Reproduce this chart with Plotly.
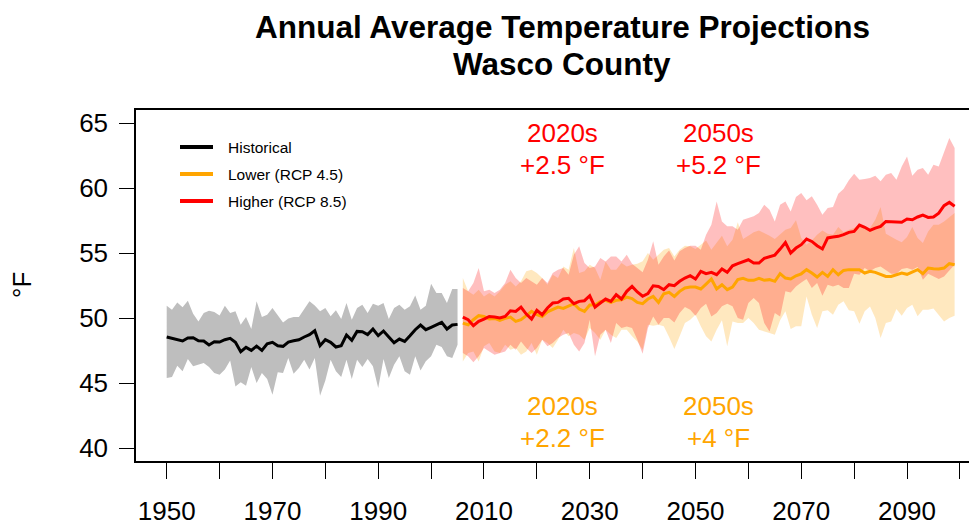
import plotly.graph_objects as go

# ---------------- data ----------------
hist_years = list(range(1950, 2006))
proj_years = list(range(2006, 2100))

hist_mean = [48.54, 48.43, 48.31, 48.23, 48.46, 48.48, 48.25, 48.23, 47.92, 48.18,
             48.15, 48.33, 48.43, 48.13, 47.41, 47.74, 47.51, 47.84, 47.51, 48.02,
             48.13, 47.87, 47.82, 48.15, 48.25, 48.33, 48.54, 48.72, 49.02, 47.87,
             48.33, 48.13, 47.77, 47.87, 48.69, 48.28, 48.97, 48.95, 48.72, 49.15,
             48.64, 49.00, 48.54, 48.10, 48.38, 48.20, 48.64, 49.10, 49.46, 49.10,
             49.28, 49.49, 49.66, 49.15, 49.46, 49.51]
hist_upper = [50.95, 50.64, 51.20, 50.82, 51.33, 50.33, 49.74, 50.38, 50.56, 50.46,
              50.20, 50.95, 50.38, 50.51, 49.48, 50.08, 49.15, 51.28, 50.08, 50.25,
              50.77, 50.25, 49.66, 49.97, 50.08, 50.08, 50.64, 51.28, 50.97, 50.51,
              50.77, 50.13, 50.59, 49.92, 51.15, 49.87, 50.77, 51.02, 50.38, 51.10,
              50.95, 51.15, 49.92, 50.77, 51.02, 50.64, 50.90, 51.74, 50.64, 50.95,
              52.64, 51.92, 51.92, 51.15, 52.23, 52.23]
hist_lower = [45.38, 45.46, 46.33, 45.90, 46.84, 46.28, 46.41, 46.54, 46.23, 45.77,
              45.64, 46.03, 46.74, 44.74, 45.05, 44.79, 46.23, 45.00, 45.77, 45.31,
              44.10, 45.82, 45.77, 46.92, 45.72, 46.15, 46.79, 46.03, 46.92, 44.02,
              45.20, 46.79, 45.90, 45.46, 46.79, 45.31, 46.79, 46.23, 46.84, 46.28,
              44.61, 46.84, 45.38, 46.41, 47.05, 45.90, 45.64, 47.05, 45.97, 46.67,
              47.05, 47.95, 47.77, 47.05, 46.92, 47.95]

rcp85_mean = [50.07, 49.87, 49.41, 49.74, 49.92, 50.12, 50.07, 50.00, 50.12, 50.56,
              50.51, 50.84, 50.30, 49.92, 50.59, 50.25, 50.77, 51.15, 51.20, 51.46,
              51.51, 51.10, 51.28, 51.33, 51.71, 50.84, 51.15, 51.46, 51.28, 51.79,
              51.46, 52.05, 52.43, 52.00, 51.67, 51.87, 52.48, 52.43, 52.18, 52.56,
              52.48, 52.82, 53.07, 53.25, 53.00, 53.59, 53.41, 53.51, 53.33, 53.77,
              53.51, 54.02, 54.18, 54.31, 54.48, 54.23, 54.23, 54.59, 54.74, 54.84,
              55.30, 55.80, 55.00, 55.38, 55.64, 56.07, 55.89, 55.56, 55.31, 56.16,
              56.23, 56.28, 56.41, 56.59, 56.66, 57.15, 56.98, 56.74, 56.92, 57.05,
              57.43, 57.41, 57.36, 57.36, 57.61, 57.56, 57.77, 57.92, 57.74, 57.77,
              58.07, 58.64, 58.89, 58.59]
rcp85_upper = [52.30, 52.05, 52.69, 53.84, 52.05, 52.18, 51.92, 52.18, 52.69, 53.71,
               53.07, 52.69, 53.07, 52.82, 52.56, 53.07, 52.69, 53.46, 53.71, 53.84,
               53.33, 54.87, 55.51, 54.23, 53.84, 53.97, 54.61, 54.35, 54.74, 54.74,
               54.35, 54.87, 54.18, 53.84, 53.51, 54.49, 55.90, 54.10, 54.74, 55.20,
               54.43, 55.13, 55.38, 55.56, 55.56, 55.25, 56.41, 57.18, 58.97, 57.43,
               57.05, 57.05, 56.79, 57.56, 57.69, 57.82, 58.07, 58.72, 58.33, 57.43,
               58.72, 58.97, 58.20, 59.30, 59.61, 59.05, 59.36, 58.72, 57.95, 58.46,
               58.54, 59.56, 59.92, 60.59, 61.10, 60.64, 60.69, 60.77, 60.95, 60.51,
               61.02, 61.15, 60.64, 61.66, 62.43, 60.95, 61.41, 61.54, 61.02, 61.79,
               61.66, 62.82, 63.84, 63.07]
rcp85_lower = [47.30, 47.05, 46.59, 47.05, 47.69, 47.43, 47.18, 47.30, 47.43, 47.94,
               47.56, 48.20, 47.69, 47.30, 47.69, 48.33, 47.82, 48.07, 48.46, 48.71,
               48.84, 47.94, 47.43, 48.07, 49.87, 47.05, 48.71, 49.10, 48.07, 49.61,
               49.23, 49.35, 49.23, 48.33, 47.25, 49.23, 50.12, 49.48, 50.00, 50.00,
               49.66, 50.38, 50.84, 50.64, 50.18, 50.77, 51.10, 50.12, 50.38, 50.90,
               51.10, 50.90, 50.00, 49.87, 51.15, 51.54, 51.15, 49.61, 48.97, 50.38,
               50.12, 52.05, 51.97, 52.43, 52.74, 53.00, 52.30, 52.69, 51.72, 52.56,
               52.43, 52.56, 52.30, 52.30, 53.41, 53.33, 53.84, 53.59, 53.84, 53.97,
               53.72, 53.41, 53.41, 53.77, 53.84, 53.72, 53.92, 52.95, 53.41, 53.20,
               53.00, 53.20, 53.66, 54.10]

rcp45_mean = [49.61, 49.48, 49.87, 50.18, 50.12, 49.92, 49.97, 49.82, 49.97, 50.07,
              49.74, 49.87, 50.18, 50.51, 50.25, 50.12, 50.48, 50.69, 50.84, 50.74,
              50.94, 51.10, 50.69, 50.51, 51.00, 51.00, 51.25, 51.36, 51.20, 51.36,
              51.41, 51.61, 51.49, 51.20, 51.10, 51.46, 51.66, 51.20, 51.87, 51.97,
              51.66, 52.05, 52.31, 52.38, 52.38, 52.23, 52.61, 53.00, 52.23, 52.56,
              52.18, 52.38, 52.95, 53.05, 52.90, 52.90, 53.05, 52.90, 52.95, 52.82,
              53.41, 53.07, 53.00, 53.25, 53.40, 53.72, 53.46, 53.15, 53.51, 53.20,
              53.72, 53.33, 53.66, 53.72, 53.72, 53.72, 53.46, 53.59, 53.51, 53.33,
              53.20, 53.20, 53.33, 53.46, 53.36, 53.56, 53.72, 53.40, 53.84, 53.79,
              53.77, 53.84, 54.18, 54.10]
rcp45_upper = [53.07, 52.05, 51.79, 52.18, 51.66, 51.92, 51.66, 52.05, 52.56, 52.82,
               52.43, 52.82, 53.59, 53.71, 53.46, 53.07, 52.56, 53.33, 53.07, 53.97,
               53.71, 55.38, 53.46, 53.59, 54.10, 53.84, 52.94, 54.35, 53.71, 53.71,
               54.23, 53.97, 54.10, 54.18, 54.36, 55.00, 54.49, 54.87, 55.25, 55.38,
               54.74, 55.25, 55.56, 55.51, 55.31, 55.64, 55.97, 55.25, 55.77, 56.33,
               55.51, 56.02, 57.36, 56.07, 56.33, 56.59, 56.74, 56.54, 56.33, 56.07,
               56.41, 56.79, 56.92, 57.51, 56.15, 55.64, 55.97, 56.41, 56.74, 56.48,
               56.41, 57.00, 56.59, 56.79, 56.92, 57.25, 56.84, 56.92, 57.56, 58.54,
               56.48, 56.23, 56.02, 55.82, 56.23, 57.00, 56.15, 55.77, 56.66, 57.18,
               57.18, 57.43, 57.77, 58.07]
rcp45_lower = [46.66, 47.30, 47.43, 46.66, 47.82, 48.07, 47.43, 47.30, 47.94, 47.56,
               47.69, 47.18, 47.43, 48.07, 47.18, 48.33, 48.07, 47.69, 48.33, 49.10,
               48.59, 48.84, 48.71, 48.33, 49.23, 48.84, 48.33, 49.10, 48.71, 48.46,
               49.10, 49.10, 48.59, 48.20, 47.56, 49.48, 49.41, 49.48, 49.36, 48.54,
               47.61, 48.59, 49.61, 49.87, 50.25, 49.36, 48.59, 48.20, 49.10, 49.82,
               47.82, 49.74, 49.61, 49.61, 50.00, 49.61, 49.10, 48.97, 48.84, 48.72,
               49.82, 50.51, 49.15, 49.36, 49.36, 51.66, 50.25, 49.23, 50.51, 50.59,
               50.25, 51.02, 51.28, 50.59, 50.51, 49.56, 50.51, 50.89, 50.00, 48.46,
               49.61, 49.74, 50.69, 50.18, 50.77, 51.02, 50.13, 50.64, 50.64, 50.74,
               50.25, 49.74, 50.00, 50.18]

x_tick_vals = list(range(1950, 2101, 10))
x_tick_text = ["1950", "", "1970", "", "1990", "", "2010", "", "2030", "",
               "2050", "", "2070", "", "2090", ""]
y_tick_vals = [40, 45, 50, 55, 60, 65]

series_names = ["Historical", "Lower (RCP 4.5)", "Higher (RCP 8.5)"]
series_colors = ["#000000", "#FFA500", "#FF0000"]

# change annotations: (decade label, change text)
rcp85_changes = [("2020s", "+2.5 °F"), ("2050s", "+5.2 °F")]
rcp45_changes = [("2020s", "+2.2 °F"), ("2050s", "+4 °F")]
change_x = [2024.8, 2054.4]

# ---------------- figure ----------------
FONT = "Liberation Sans, Arial, Helvetica, sans-serif"
W, H = 977, 525
OFF = 8                      # page body margin that offsets the figure
ML, MR, MT, MB = 128, 0, 102, 72
plot_h = H - MT - MB
plot_w = W - ML - MR
PX_PER_YEAR = 5.288


def py(sy):  # screen pixel y -> paper y
    return (H - MB - (sy - OFF)) / plot_h


def px_(sx):  # screen pixel x -> paper x
    return (sx - OFF - ML) / plot_w


def band(x, lo, hi, color):
    return go.Scatter(x=x + x[::-1], y=hi + lo[::-1], fill="toself",
                      fillcolor=color, mode="lines", line=dict(width=0),
                      hoverinfo="skip", showlegend=False)


fig = go.Figure()
fig.add_trace(band(hist_years, hist_lower, hist_upper, "#BEBEBE"))
fig.add_trace(go.Scatter(x=hist_years, y=hist_mean, mode="lines",
                         line=dict(color=series_colors[0], width=3),
                         name=series_names[0], showlegend=False))
fig.add_trace(band(proj_years, rcp45_lower, rcp45_upper, "rgba(255,165,0,0.25)"))
fig.add_trace(band(proj_years, rcp85_lower, rcp85_upper, "rgba(255,0,0,0.25)"))
fig.add_trace(go.Scatter(x=proj_years, y=rcp45_mean, mode="lines",
                         line=dict(color=series_colors[1], width=3),
                         name=series_names[1], showlegend=False))
fig.add_trace(go.Scatter(x=proj_years, y=rcp85_mean, mode="lines",
                         line=dict(color=series_colors[2], width=3),
                         name=series_names[2], showlegend=False))

annotations = []
shapes = []

# title (two lines)
annotations.append(dict(text="<b>Annual Average Temperature Projections</b>",
                        xref="paper", yref="paper", x=px_(562), y=py(27),
                        xanchor="center", yanchor="middle", showarrow=False,
                        font=dict(size=31.5, color="black", family=FONT)))
annotations.append(dict(text="<b>Wasco County</b>",
                        xref="paper", yref="paper", x=px_(562), y=py(64),
                        xanchor="center", yanchor="middle", showarrow=False,
                        font=dict(size=31.5, color="black", family=FONT)))

# y axis title
annotations.append(dict(text="°F", xref="paper", yref="paper",
                        x=px_(22), y=py(285), textangle=-90,
                        xanchor="center", yanchor="middle", showarrow=False,
                        font=dict(size=26, color="black", family=FONT)))

# change annotations
for (dec, chg), xv in zip(rcp85_changes, change_x):
    annotations.append(dict(text=dec, x=xv, y=64.2, xref="x", yref="y",
                            showarrow=False, xanchor="center", yanchor="middle",
                            font=dict(size=26, color="#FF0000", family=FONT)))
    annotations.append(dict(text=chg, x=xv, y=61.75, xref="x", yref="y",
                            showarrow=False, xanchor="center", yanchor="middle",
                            font=dict(size=26, color="#FF0000", family=FONT)))
for (dec, chg), xv in zip(rcp45_changes, change_x):
    annotations.append(dict(text=dec, x=xv, y=43.2, xref="x", yref="y",
                            showarrow=False, xanchor="center", yanchor="middle",
                            font=dict(size=26, color="#FFA500", family=FONT)))
    annotations.append(dict(text=chg, x=xv, y=40.8, xref="x", yref="y",
                            showarrow=False, xanchor="center", yanchor="middle",
                            font=dict(size=26, color="#FFA500", family=FONT)))

# legend (drawn like R's legend())
leg_y = [147, 174, 201]
for name, col, yy in zip(series_names, series_colors, leg_y):
    shapes.append(dict(type="line", xref="paper", yref="paper",
                       x0=px_(180), x1=px_(213), y0=py(yy), y1=py(yy),
                       line=dict(color=col, width=4)))
    annotations.append(dict(text=name, xref="paper", yref="paper",
                            x=px_(226), y=py(yy), xanchor="left", yanchor="middle",
                            showarrow=False,
                            font=dict(size=15.5, color="black", family=FONT)))

x_left = 1950 - (166.7 - (ML + OFF)) / PX_PER_YEAR
x_right = x_left + plot_w / PX_PER_YEAR

fig.update_layout(
    width=W, height=H,
    margin=dict(l=ML, r=MR, t=MT, b=MB, pad=0, autoexpand=False),
    paper_bgcolor="white", plot_bgcolor="white",
    showlegend=False,
    font=dict(family=FONT, color="black"),
    annotations=annotations,
    shapes=shapes,
    xaxis=dict(range=[x_left, x_right], tickmode="array",
               tickvals=x_tick_vals, ticktext=x_tick_text,
               ticks="outside", ticklen=16, tickwidth=1.2, tickcolor="black",
               ticklabelstandoff=10, automargin=False,
               showline=True, linecolor="black", linewidth=1.5, mirror=True,
               showgrid=False, zeroline=False,
               tickfont=dict(size=26, family=FONT, color="black")),
    yaxis=dict(range=[39, 66], tickmode="array", tickvals=y_tick_vals,
               ticks="outside", ticklen=15, tickwidth=1.2, tickcolor="black",
               ticklabelstandoff=6, automargin=False,
               showline=True, linecolor="black", linewidth=1.5, mirror=False,
               showgrid=False, zeroline=False,
               tickfont=dict(size=26, family=FONT, color="black")),
)

fig.write_html("out.html")
